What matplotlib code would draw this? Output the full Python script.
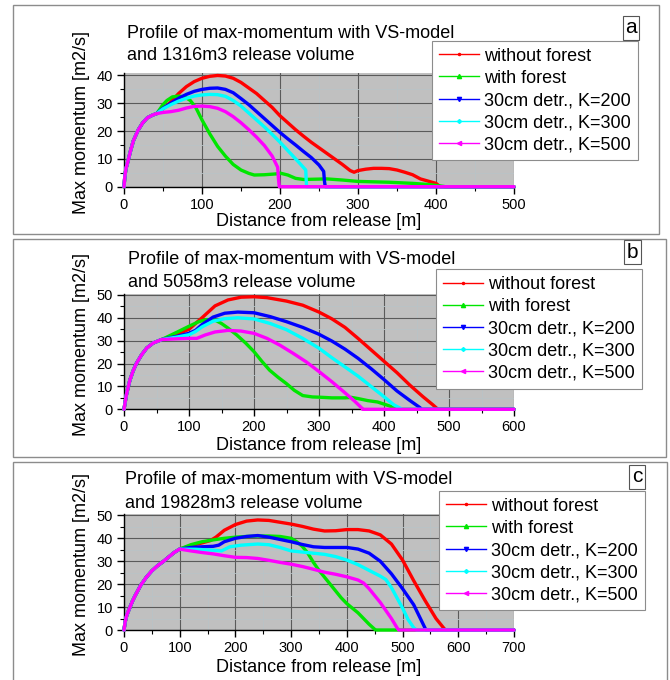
import matplotlib
matplotlib.use("Agg")
import matplotlib.pyplot as plt
from matplotlib.patches import Rectangle
from matplotlib.lines import Line2D
from matplotlib.ticker import MultipleLocator

plt.rcParams['font.family'] = ['Liberation Sans', 'DejaVu Sans']

# ---------------- data: distance [m] and max momentum [m2/s] ----------------
series_labels = ["without forest", "with forest", "30cm detr., K=200",
                 "30cm detr., K=300", "30cm detr., K=500"]

# Panel a: 1316 m3 release volume
a_start_x = [0, 1, 2.5, 5.5, 8, 12, 18, 24, 30, 37, 42]
a_start_y = [0, 3.5, 6.5, 9.6, 12.5, 16.5, 20.3, 23, 24.8, 25.8, 26.3]
a_nf_x = [50, 60, 70, 80, 90, 100, 110, 120, 130, 140, 150, 160, 170, 180, 190, 200, 210, 220, 230, 240,
          250, 260, 270, 280, 290, 295, 300, 310, 320, 330, 340, 350, 360, 370, 380, 390, 400, 404, 405, 500]
a_nf_y = [28, 30.5, 33.5, 36, 37.8, 39, 39.7, 40, 39.8, 39, 37.5, 35.5, 33.5, 31, 28.5, 25.5, 23, 20.5, 18.2, 16,
          14, 12, 10, 8, 5.8, 5.2, 5.8, 6.3, 6.6, 6.6, 6.5, 6, 5.2, 4.3, 2.8, 2, 1.2, 0.3, 0, 0]
a_wf_x = [50, 55, 62, 70, 78, 85, 92, 100, 110, 120, 130, 140, 150, 160, 167, 180, 195, 200, 210, 220,
          230, 260, 280, 300, 340, 370, 390, 410, 412, 500]
a_wf_y = [29.5, 31, 32.3, 32.6, 32.3, 31, 28.5, 24, 19, 14.5, 11, 8, 6, 4.8, 4.2, 4.3, 4.6, 4.9, 4.2, 3,
          2.6, 2.8, 2.4, 1.9, 1.6, 1.2, 0.8, 0.1, 0, 0]
a_k200_x = [50, 60, 70, 80, 90, 100, 110, 120, 130, 140, 150, 160, 170, 180, 190, 200, 210, 220, 230, 240,
            250, 256, 257, 258, 500]
a_k200_y = [28.2, 30, 31.8, 33.2, 34.3, 35, 35.4, 35.5, 35, 33.8, 31.7, 29.5, 27, 24.5, 22, 19.5, 17.2, 15, 12.7,
            10.5, 7.8, 5.5, 2, 0, 0]
a_k300_x = [50, 60, 70, 80, 90, 100, 110, 120, 130, 140, 150, 160, 170, 180, 190, 200, 215, 225, 233, 234, 500]
a_k300_y = [28, 29.5, 30.8, 31.8, 32.6, 33, 33.2, 33.1, 32.5, 31, 29, 26.5, 24, 21.5, 18.8, 16, 11.5, 8.5, 6, 0, 0]
a_k500_x = [50, 60, 70, 80, 90, 100, 110, 120, 130, 140, 150, 160, 170, 180, 190, 197, 198, 199, 500]
a_k500_y = [26.7, 27, 27.5, 28.3, 28.9, 29, 28.8, 28.2, 27, 25.2, 23, 20.5, 17.8, 14.8, 11, 7, 3, 0, 0]

# Panel b: 5058 m3 release volume
b_start_x = [0, 2, 4, 9, 14, 19, 27, 35, 45, 58]
b_start_y = [0, 3.5, 6.8, 12.7, 16.8, 20, 23.8, 26.8, 29, 30.5]
b_nf_x = [80, 100, 120, 140, 160, 180, 200, 220, 250, 275, 300, 320, 340, 360, 380, 400, 420, 440, 460, 475,
          483, 600]
b_nf_y = [32.5, 35, 40, 45.2, 47.8, 49, 49.2, 48.8, 47.3, 45.5, 42.5, 39.5, 35.8, 31, 26, 21, 16, 10.5, 5.5, 2,
          0, 0]
b_wf_x = [80, 100, 115, 127, 140, 150, 160, 173, 187, 200, 212, 224, 237, 250, 262, 275, 290, 300, 320, 340,
          350, 360, 375, 390, 405, 418, 425, 600]
b_wf_y = [33.5, 36.3, 38.3, 39.2, 39, 37.5, 35.5, 32.6, 29, 25.2, 21, 17.1, 14, 11.2, 8.3, 6, 5.4, 5.3, 5, 5,
          5.2, 4.7, 3.8, 3.2, 1.8, 0.5, 0, 0]
b_k200_x = [80, 100, 110, 120, 137, 155, 175, 200, 225, 250, 275, 300, 320, 340, 360, 380, 400, 420, 440, 455,
            458, 600]
b_k200_y = [31.8, 33.2, 34.5, 37, 40.3, 42, 42.5, 42.2, 40.5, 38.3, 35.8, 32.8, 29.8, 26.3, 22.3, 17.8, 13, 8,
            3.8, 0.8, 0, 0]
b_k300_x = [80, 100, 110, 120, 137, 155, 175, 200, 225, 250, 275, 300, 320, 340, 360, 380, 400, 415, 428, 600]
b_k300_y = [31.5, 32.6, 34, 36, 38.5, 39.6, 40, 39.5, 37.5, 34.8, 31, 26.7, 22.5, 18.5, 14.5, 10, 5.5, 2, 0, 0]
b_k500_x = [80, 100, 112, 125, 140, 160, 180, 200, 220, 240, 260, 280, 300, 320, 340, 355, 366, 367, 600]
b_k500_y = [30.8, 31, 31, 32.5, 33.8, 34.5, 34.2, 33.2, 31, 28, 24.5, 20.8, 16.5, 12, 7.2, 3.5, 0.5, 0, 0]

# Panel c: 19828 m3 release volume
c_start_x = [0, 2, 5, 10, 15, 20, 30, 40, 50, 60, 70, 80, 90, 100]
c_start_y = [0, 3.5, 6.5, 9.5, 12.5, 15, 19.5, 23, 25.8, 28, 29.8, 31.8, 33.8, 35.3]
c_nf_x = [120, 140, 155, 165, 180, 200, 220, 240, 260, 280, 300, 320, 340, 360, 380, 400, 420, 440, 460, 480,
          500, 520, 540, 560, 575, 578, 700]
c_nf_y = [36.8, 38, 39, 40.5, 43.5, 46, 47.5, 48, 47.8, 47, 46.2, 45.2, 44, 43.2, 43.3, 43.8, 43.8, 43.2, 41.5,
          37.5, 30.5, 21.5, 13, 5, 0.5, 0, 0]
c_wf_x = [120, 140, 160, 180, 200, 220, 240, 260, 280, 300, 310, 320, 330, 340, 350, 360, 370, 380, 390, 400,
          410, 420, 430, 440, 450, 452, 700]
c_wf_y = [37.2, 38.5, 39.3, 40, 40.5, 40.8, 41, 41, 40.8, 40, 38.5, 36.5, 33.5, 29.5, 26, 23, 20, 17, 14, 11.5,
          9.5, 7.5, 5, 2.5, 0.3, 0, 0]
c_k200_x = [120, 140, 160, 170, 180, 200, 220, 240, 260, 280, 300, 320, 340, 360, 380, 400, 420, 440, 460, 480,
            500, 520, 535, 542, 700]
c_k200_y = [36, 36.3, 36.5, 37, 38.5, 40, 40.8, 41.2, 40.5, 39.5, 38.5, 37.3, 36.3, 36, 36, 36, 35.3, 33.5, 30,
            24.5, 18, 11, 3.5, 0, 0]
c_k300_x = [130, 160, 175, 190, 210, 240, 260, 280, 300, 320, 340, 360, 380, 400, 420, 440, 460, 470, 480, 490,
            500, 510, 520, 525, 700]
c_k300_y = [35.2, 34.8, 34.5, 36.3, 37, 37.5, 37.2, 36, 34.5, 34, 33.5, 33, 32, 30.5, 28.5, 26, 23.5, 22, 18.5,
            14, 9.5, 4.5, 1, 0, 0]
c_k500_x = [120, 140, 160, 180, 200, 220, 240, 260, 280, 300, 320, 340, 360, 380, 400, 420, 430, 440, 450, 460,
            470, 480, 490, 493, 700]
c_k500_y = [34.5, 33.8, 33.2, 32.4, 31.7, 31.6, 31.2, 30.4, 29.5, 28.7, 27.7, 26.5, 25.2, 24.3, 23.2, 21.8,
            20.5, 18, 15, 12, 8.5, 5, 1, 0, 0]

# ---------------- styling ----------------
colors = ['#ff0000', '#00e600', '#0000ff', '#00ffff', '#ff00ff']
markers = ['.', '^', 'v', 'D', '<']
msizes = [3, 3, 3, 2, 3]

W, H = 670, 680
fig = plt.figure(figsize=(W / 100, H / 100), dpi=100)


def fx(px):
    return px / W


def fy(py):
    return 1 - py / H


panels = [
    dict(letter='a', volume='1316', start=(a_start_x, a_start_y),
         series=[(a_nf_x, a_nf_y), (a_wf_x, a_wf_y), (a_k200_x, a_k200_y), (a_k300_x, a_k300_y),
                 (a_k500_x, a_k500_y)],
         xmax=500, ymax=41, ystep=10,
         frame=(13, 5, 659, 234), ax_box=(124, 72.7, 514, 186.7), title_y=(33, 55), title_x=127,
         ylabel_y=123, xlabel_y=222, legend_xy=(432, 40.7), letter_box=(631, 27.5)),
    dict(letter='b', volume='5058', start=(b_start_x, b_start_y),
         series=[(b_nf_x, b_nf_y), (b_wf_x, b_wf_y), (b_k200_x, b_k200_y), (b_k300_x, b_k300_y),
                 (b_k500_x, b_k500_y)],
         xmax=600, ymax=50.4, ystep=10,
         frame=(13, 239, 666, 457), ax_box=(124, 294, 514, 409.3), title_y=(260, 282), title_x=128,
         ylabel_y=344, xlabel_y=445, legend_xy=(436, 269), letter_box=(632.5, 252)),
    dict(letter='c', volume='19828', start=(c_start_x, c_start_y),
         series=[(c_nf_x, c_nf_y), (c_wf_x, c_wf_y), (c_k200_x, c_k200_y), (c_k300_x, c_k300_y),
                 (c_k500_x, c_k500_y)],
         xmax=700, ymax=50.6, ystep=10,
         frame=(13, 462, 667, 700), ax_box=(124, 514, 514, 630), title_y=(480, 503), title_x=125,
         ylabel_y=564, xlabel_y=667, legend_xy=(439, 490.7), letter_box=(637, 476.5)),
]

for p in panels:
    x0, y0, x1, y1 = p['frame']
    fig.patches.append(Rectangle((fx(x0), fy(y1)), fx(x1) - fx(x0), fy(y0) - fy(y1),
                                 transform=fig.transFigure, fill=False,
                                 edgecolor='#8c8c8c', linewidth=1.0, zorder=0))

    l, t, r, b = p['ax_box']
    ax = fig.add_axes([fx(l), fy(b), fx(r) - fx(l), fy(t) - fy(b)])
    ax.set_facecolor('#c0c0c0')
    ax.set_xlim(0, p['xmax'])
    ax.set_ylim(0, p['ymax'])

    sx, sy = p['start']
    for (xs, ys), col in zip(p['series'], colors):
        ax.plot(list(sx) + list(xs), list(sy) + list(ys), color=col, lw=2.4,
                solid_joinstyle='round', solid_capstyle='round', clip_on=False, zorder=3)

    ax.xaxis.set_major_locator(MultipleLocator(100))
    ax.xaxis.set_minor_locator(MultipleLocator(50))
    ax.yaxis.set_major_locator(MultipleLocator(p['ystep']))
    ax.yaxis.set_minor_locator(MultipleLocator(5))
    ax.grid(which='major', color='#5a5a5a', linewidth=0.8, zorder=1)
    ax.grid(which='minor', color='#b9c3c6', linewidth=0.6, zorder=1)
    ax.set_axisbelow(True)
    for side in ('top', 'right'):
        ax.spines[side].set_visible(False)
    for side in ('left', 'bottom'):
        ax.spines[side].set_color('black')
        ax.spines[side].set_linewidth(1.0)
    ax.tick_params(which='major', direction='out', length=5, width=1, labelsize=10.5, pad=3)
    ax.tick_params(which='minor', direction='out', length=3, width=0.8)

    # titles and axis labels
    fig.text(fx(p['title_x']), fy(p['title_y'][0]), "Profile of max-momentum with VS-model",
             fontsize=13, ha='left', va='center')
    fig.text(fx(p['title_x']), fy(p['title_y'][1]), f"and {p['volume']}m3 release volume",
             fontsize=13, ha='left', va='center')
    fig.text(fx(82), fy(p['ylabel_y']), "Max momentum [m2/s]", fontsize=13, rotation=90,
             ha='center', va='center')
    fig.text(fx((l + r) / 2), fy(p['xlabel_y']), "Distance from release [m]", fontsize=13,
             ha='center', va='center')

    # legend
    handles = [Line2D([], [], color=c, lw=1, marker=m, markersize=ms)
               for c, m, ms in zip(colors, markers, msizes)]
    leg = ax.legend(handles, series_labels, loc='upper left',
                    bbox_to_anchor=(fx(p['legend_xy'][0]), fy(p['legend_xy'][1])),
                    bbox_transform=fig.transFigure, borderaxespad=0, fontsize=13,
                    handlelength=2.2, handletextpad=0.3, borderpad=0.38, labelspacing=0.29,
                    numpoints=1, fancybox=False, framealpha=1, edgecolor='#8c8c8c')
    leg.get_frame().set_linewidth(0.8)
    leg.set_zorder(10)

    # panel letter in a small box
    fig.text(fx(p['letter_box'][0]), fy(p['letter_box'][1]), p['letter'], fontsize=15,
             ha='center', va='center',
             bbox=dict(boxstyle='square,pad=0.12', facecolor='white', edgecolor='#555555', linewidth=0.8))

fig.savefig('out.png', dpi=100)
